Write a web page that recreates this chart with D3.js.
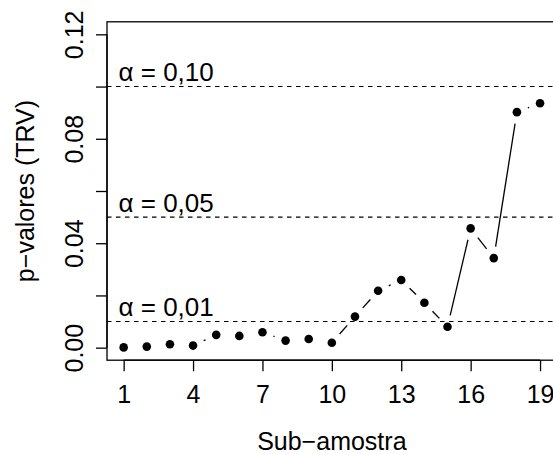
<!DOCTYPE html>
<html>
<head>
<meta charset="utf-8">
<script src="https://cdn.jsdelivr.net/npm/d3@7"></script>
<style>
html,body{margin:0;padding:0;background:#fff;overflow:hidden;}
text{font-family:"Liberation Sans",Arial,sans-serif;fill:#000;}
</style>
</head>
<body>
<svg id="chart" width="553" height="455"></svg>
<script>
// Data
const subamostra = [1,2,3,4,5,6,7,8,9,10,11,12,13,14,15,16,17,18,19];
const pvalores = [0.0001,0.0004,0.0013,0.0008,0.0049,0.0045,0.0059,0.0027,0.0033,0.0019,
                  0.0119,0.0218,0.0259,0.0172,0.0080,0.0457,0.0343,0.0902,0.0936];
const alphas = [0.10, 0.05, 0.01];
const alphaLabels = ["α = 0,10", "α = 0,05", "α = 0,01"];
const xTicks = [1,4,7,10,13,16,19];
const yTicks = [0,0.02,0.04,0.06,0.08,0.10,0.12];
const yTickLabels = ["0.00","","0.04","","0.08","","0.12"];
const xTitle = "Sub\u2212amostra";
const yTitle = "p\u2212valores (TRV)";

const svg = d3.select("#chart");
const pL = 107, pR = 556.7, pT = 21.8, pB = 360.2;
const x = d3.scaleLinear().domain([0.28, 19.72]).range([pL, pR]);
const y = d3.scaleLinear().domain([-0.0048, 0.1248]).range([pB, pT]);
const FS = 25;

// box
svg.append("rect").attr("x", pL).attr("y", pT)
  .attr("width", pR-pL).attr("height", pB-pT)
  .attr("fill","none").attr("stroke","#000").attr("stroke-width",1.3);

// x axis
const xAxis = d3.axisBottom(x).tickValues(xTicks).tickSize(11).tickPadding(0).tickFormat(d3.format("d"));
const gx = svg.append("g").attr("transform",`translate(0,${pB})`).call(xAxis);
gx.select(".domain").attr("d", `M${x(1)},0H${x(19)}`).attr("stroke-width",1.3);
gx.selectAll(".tick line").attr("stroke-width",1.3);
gx.selectAll(".tick text").attr("font-size",FS).attr("font-family","Liberation Sans, Arial, sans-serif")
  .attr("dy",null).attr("y",43.3);

// y axis
const yAxis = d3.axisLeft(y).tickValues(yTicks).tickSize(11).tickFormat((d,i)=>yTickLabels[i]);
const gy = svg.append("g").attr("transform",`translate(${pL},0)`).call(yAxis);
gy.select(".domain").attr("d", `M0,${y(0)}V${y(0.12)}`).attr("stroke-width",1.3);
gy.selectAll(".tick line").attr("stroke-width",1.3);
gy.selectAll(".tick text").attr("font-size",FS).attr("font-family","Liberation Sans, Arial, sans-serif")
  .attr("x",null).attr("dy",null)
  .attr("text-anchor","middle")
  .attr("transform","translate(-24,0) rotate(-90)");

// titles
svg.append("text").attr("x",(pL+pR)/2).attr("y",450).attr("text-anchor","middle")
  .attr("font-size",FS).text(xTitle);
svg.append("text").attr("transform",`translate(33.5,${(pT+pB)/2}) rotate(-90)`)
  .attr("text-anchor","middle").attr("font-size",FS).text(yTitle);

// alpha lines
alphas.forEach((a,i)=>{
  svg.append("line").attr("x1",pL).attr("x2",pR).attr("y1",y(a)).attr("y2",y(a))
    .attr("stroke","#000").attr("stroke-width",1.1).attr("stroke-dasharray","4.5,4.5");
  svg.append("text").attr("x",118.5).attr("y",y(a)-5.3).attr("font-size",FS+1)
    .text(alphaLabels[i]);
});

// connecting segments (type = "b": gaps around points)
const gap = 11.7;
const pts = subamostra.map((s,i)=>[x(s), y(pvalores[i])]);
for(let i=0;i<pts.length-1;i++){
  const [x0,y0]=pts[i],[x1,y1]=pts[i+1];
  const dx=x1-x0, dy=y1-y0, L=Math.hypot(dx,dy);
  if(L>2*gap){
    const ux=dx/L, uy=dy/L;
    svg.append("line").attr("x1",x0+ux*gap).attr("y1",y0+uy*gap)
      .attr("x2",x1-ux*gap).attr("y2",y1-uy*gap)
      .attr("stroke","#000").attr("stroke-width",1.3);
  }
}
svg.append("g").selectAll("circle").data(subamostra).join("circle")
  .attr("cx",d=>x(d)).attr("cy",(d,i)=>y(pvalores[i])).attr("r",4.3).attr("fill","#000");
</script>
</body>
</html>
